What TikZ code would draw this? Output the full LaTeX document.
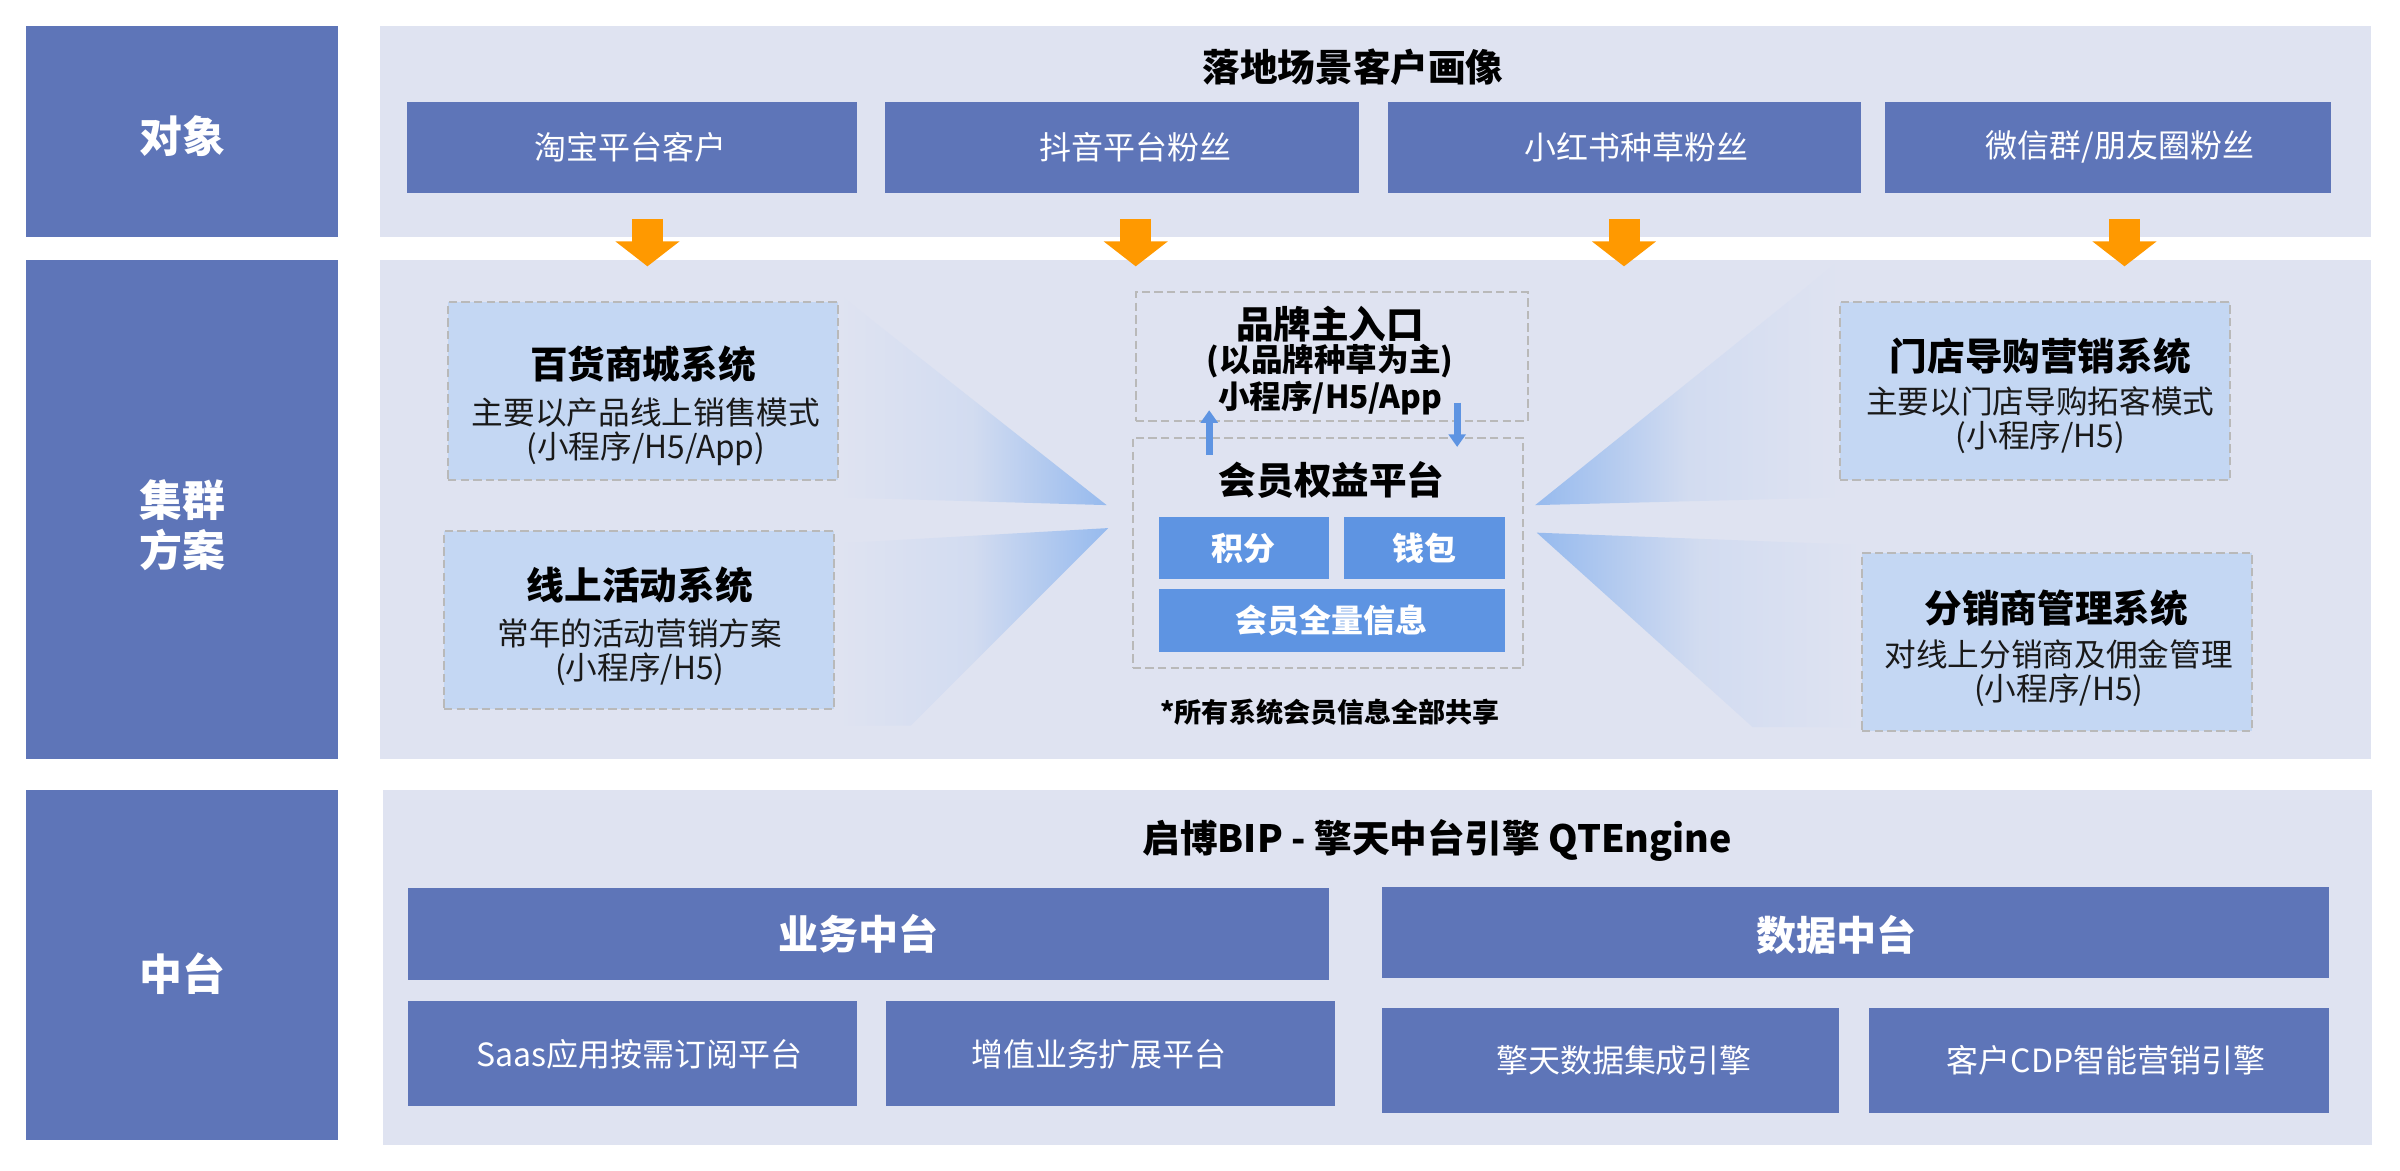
\documentclass[tikz,border=0pt]{standalone}
\usepackage{fontspec}
\setmainfont{Noto Sans CJK SC}
\usetikzlibrary{fit,arrows.meta}
\definecolor{dkblue}{RGB}{94,117,184}
\definecolor{panel}{RGB}{223,227,241}
\definecolor{ltbox}{RGB}{196,215,243}
\definecolor{midblue}{RGB}{94,148,226}
\definecolor{dashgray}{RGB}{185,185,185}
\definecolor{arrorange}{RGB}{255,153,0}
\definecolor{fanblue}{RGB}{150,186,238}
\definecolor{txtdark}{RGB}{25,25,25}
\newcommand\myfs[2]{\fontsize{#1}{#2}\selectfont}
\begin{document}
\begin{tikzpicture}[x=0.0153061cm,y=-0.0153061cm,
  every node/.style={inner sep=0pt, outer sep=0pt},
  lab/.style={fill=dkblue},
  labt/.style={text=white, font=\myfs{12.2}{14.4}\bfseries, align=center},
  panelbox/.style={fill=panel},
  dbox/.style={fill=dkblue},
  dboxt/.style={text=white, font=\myfs{9.1}{11}},
  dboxbt/.style={text=white, font=\myfs{11.4}{13}\bfseries},
  ltb/.style={fill=ltbox, draw=dashgray, dash pattern=on 2.4pt off 1.2pt, line width=0.6pt},
  dsh/.style={draw=dashgray, dash pattern=on 2.4pt off 1.2pt, line width=0.6pt},
  mbox/.style={fill=midblue},
  mboxt/.style={text=white, font=\myfs{9.1}{11}\bfseries},
  ttl/.style={text=black, font=\myfs{10.7}{12}\bfseries},
  subt/.style={text=txtdark, font=\myfs{9}{9.6}, align=center},
  bsubt/.style={text=black, font=\myfs{9}{9.6}\bfseries, align=center},
  notet/.style={text=black, font=\myfs{7.7}{9}\bfseries},
  oarrow/.style={draw=arrorange, line width=0.31cm, -{Triangle[width=0.63cm,length=0.25cm,fill=arrorange]}},
  barrow/.style={draw=midblue, line width=2pt, -{Triangle[width=4.8pt,length=3.6pt,fill=midblue]}}
]
\useasboundingbox (0,0) rectangle (1568,764.4);
\fill[white] (0,0) rectangle (1568,764.4);

% left labels
\node[lab, fit={(17,17) (221,155)}] (l1) {};
\node[lab, fit={(17,170) (221,496)}] (l2) {};
\node[lab, fit={(17,516) (221,745)}] (l3) {};
\node[labt] (l1t) at (119,89) {对象};
\node[labt] (l2t) at (119,343) {集群\\方案};
\node[labt] (l3t) at (119,636) {中台};

% panels
\node[panelbox, fit={(248,17) (1549,155)}] (p1) {};
\node[panelbox, fit={(248,170) (1549,496)}] (p2) {};
\node[panelbox, fit={(250,516) (1550,748)}] (p3) {};

% top section
\node[ttl] (p1t) at (884,44) {落地场景客户画像};
\node[dbox, fit={(266,66.5) (560,126.4)}] (t1) {};
\node[dbox, fit={(578,66.5) (888,126.4)}] (t2) {};
\node[dbox, fit={(907,66.5) (1216,126.4)}] (t3) {};
\node[dbox, fit={(1231.6,66.5) (1522.6,126.4)}] (t4) {};
\node[dboxt] (t1t) at (412,96) {淘宝平台客户};
\node[dboxt] (t2t) at (742,96) {抖音平台粉丝};
\node[dboxt] (t3t) at (1069,96) {小红书种草粉丝};
\node[dboxt] (t4t) at (1385,96) {微信群/朋友圈粉丝};

% orange arrows
\coordinate (oa1s) at (423,143); \coordinate (oa1e) at (423,174);
\coordinate (oa2s) at (742,143); \coordinate (oa2e) at (742,174);
\coordinate (oa3s) at (1061,143); \coordinate (oa3e) at (1061,174);
\coordinate (oa4s) at (1388,143); \coordinate (oa4e) at (1388,174);
\draw[oarrow] (oa1s) -- (oa1e);
\draw[oarrow] (oa2s) -- (oa2e);
\draw[oarrow] (oa3s) -- (oa3e);
\draw[oarrow] (oa4s) -- (oa4e);

% fans
\shade[left color=panel, right color=fanblue, middle color=fanblue!18!panel]
  (548,192) -- (723,330) -- (548,325) -- cycle;
\shade[left color=panel, right color=fanblue, middle color=fanblue!18!panel]
  (724,345) -- (548,355) -- (548,474) -- (595,474) -- cycle;
\shade[left color=fanblue, right color=panel, middle color=fanblue!18!panel]
  (1003,330) -- (1202,170) -- (1202,325) -- cycle;
\shade[left color=fanblue, right color=panel, middle color=fanblue!18!panel]
  (1004,348) -- (1216,356) -- (1216,475) -- (1145,475) -- cycle;

% left systems
\node[ltb, fit={(292.6,197.5) (547.6,313.6)}] (s1) {};
\node[ttl] (s1t) at (420,238) {百货商城系统};
\node[subt] (s1s) at (422,282) {主要以产品线上销售模式\\(小程序/H5/App)};
\node[ltb, fit={(290,347) (545,463)}] (s2) {};
\node[ttl] (s2t) at (418,382) {线上活动系统};
\node[subt] (s2s) at (418,426) {常年的活动营销方案\\(小程序/H5)};

% right systems
\node[ltb, fit={(1202,197.5) (1457,313.6)}] (s3) {};
\node[ttl] (s3t) at (1333,233) {门店导购营销系统};
\node[subt] (s3s) at (1333,274.5) {主要以门店导购拓客模式\\(小程序/H5)};
\node[ltb, fit={(1216.5,361) (1471,477.6)}] (s4) {};
\node[ttl] (s4t) at (1343.5,397) {分销商管理系统};
\node[subt] (s4s) at (1345,440) {对线上分销商及佣金管理\\(小程序/H5)};

% center
\node[dsh, fit={(742,190.6) (998,275)}] (c1) {};
\node[ttl] (c1t) at (869,212) {品牌主入口};
\node[bsubt] (c1s) at (869,248) {(以品牌种草为主)\\小程序/H5/App};
\node[dsh, fit={(740,286) (995,436.6)}] (c2) {};
\node[ttl] (c2t) at (870,313.6) {会员权益平台};
\node[mbox, fit={(757,338) (868,378)}] (m1) {};
\node[mbox, fit={(878,338) (983,378)}] (m2) {};
\node[mbox, fit={(757,385) (983,426)}] (m3) {};
\node[mboxt] (m1t) at (812.5,358) {积分};
\node[mboxt] (m2t) at (930.5,358) {钱包};
\node[mboxt] (m3t) at (870,405.5) {会员全量信息};
\node[notet] (note) at (869,465) {*所有系统会员信息全部共享};
\coordinate (ua1) at (790,297); \coordinate (ua2) at (790,268);
\coordinate (da1) at (952,263); \coordinate (da2) at (952,292);
\draw[barrow] (ua1) -- (ua2);
\draw[barrow] (da1) -- (da2);

% bottom
\node[ttl] (p3t) at (939,549) {启博BIP - 擎天中台引擎 QTEngine};
\node[dbox, fit={(266.7,580) (868,640)}] (b1) {};
\node[dbox, fit={(903,579.5) (1521.8,639)}] (b2) {};
\node[dboxbt] (b1t) at (561,610) {业务中台};
\node[dboxbt] (b2t) at (1200,611) {数据中台};
\node[dbox, fit={(266.7,654) (559.6,722.6)}] (b3) {};
\node[dbox, fit={(579,654) (872,722.6)}] (b4) {};
\node[dbox, fit={(903,658.6) (1201.5,727)}] (b5) {};
\node[dbox, fit={(1221,658.6) (1521.8,727)}] (b6) {};
\node[dboxt] (b3t) at (417.5,689) {Saas应用按需订阅平台};
\node[dboxt] (b4t) at (718,689) {增值业务扩展平台};
\node[dboxt] (b5t) at (1061,692.5) {擎天数据集成引擎};
\node[dboxt] (b6t) at (1376,692.5) {客户CDP智能营销引擎};
\end{tikzpicture}
\end{document}
